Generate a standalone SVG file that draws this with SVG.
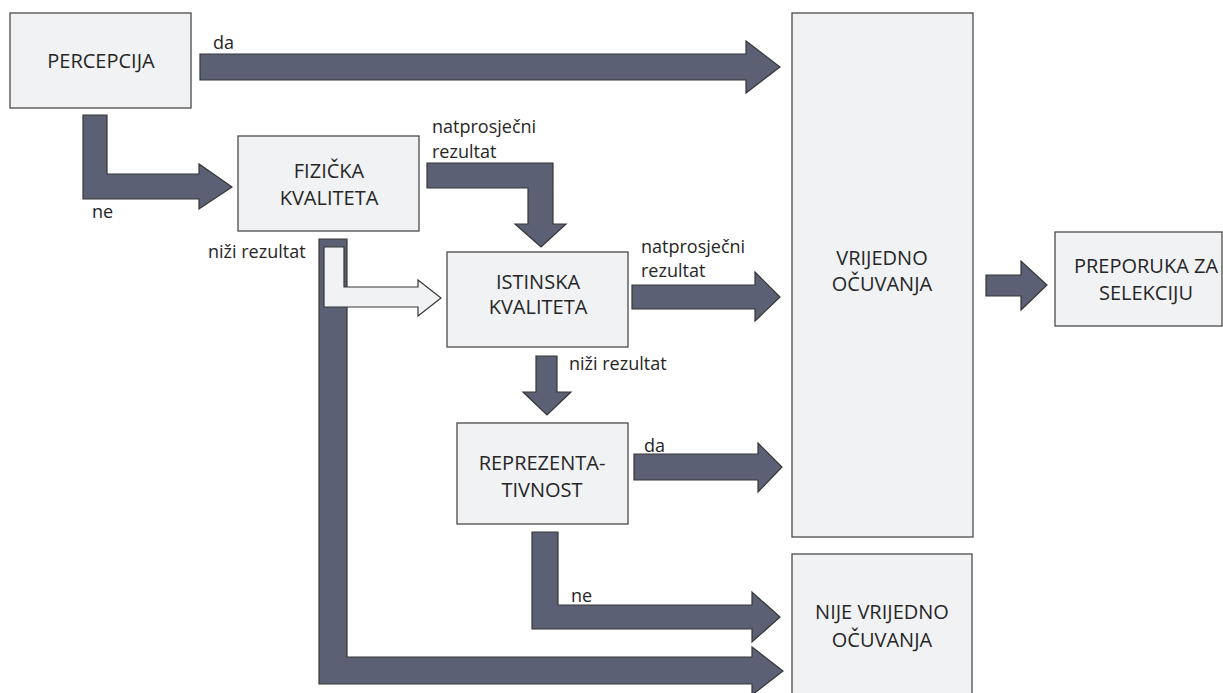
<svg xmlns="http://www.w3.org/2000/svg" width="1223" height="693" viewBox="0 0 1223 693">
<style>
.box{fill:#f1f2f4;stroke:#4a4a4a;stroke-width:1.3}
.arr{fill:#5c6074;stroke:#363636;stroke-width:1.2;stroke-linejoin:miter}
.arrl{fill:#f1f2f4;stroke:#363636;stroke-width:1.2}
.t{font-family:"Open Sans","Liberation Sans",sans-serif;font-size:20px;fill:#262626;text-anchor:middle}
.l{font-family:"Open Sans","Liberation Sans",sans-serif;font-size:18px;fill:#262626}
</style>
<rect width="1223" height="693" fill="#ffffff"/>
<g id="connectors">
<polygon class="arr" points="200,54 746,54 746,41 780,67 746,93 746,80 200,80"/>
<polygon class="arr" points="83,115 107,115 107,174 199,174 199,164 232,187 199,209 199,199 83,199"/>
<polygon class="arr" points="427,163 553,163 553,224 566,224 541,247 515,224 528,224 528,188 427,188"/>
<polygon class="arr" points="319,239 347,239 347,657 752,657 752,647 783,671 752,695 752,684 319,684"/>
<polygon class="arrl" points="324,247 344,247 344,287 418,287 418,280 441,298 418,316 418,307 324,307"/>
<polygon class="arr" points="632,285 755,285 755,272 780,297 755,321 755,309 632,309"/>
<polygon class="arr" points="536,356 557,356 557,392 571,392 547,415 523,392 536,392"/>
<polygon class="arr" points="634,454 758,454 758,443 782,467 758,492 758,480 634,480"/>
<polygon class="arr" points="532,532 558,532 558,605 752,605 752,592 780,617 752,642 752,629 532,629"/>
<polygon class="arr" points="986,275 1021,275 1021,261 1047,285 1021,310 1021,296 986,296"/>
<text class="l" x="213" y="49">da</text>
<text class="l" x="92" y="218">ne</text>
<text class="l" x="432" y="133">natprosječni</text>
<text class="l" x="432" y="158">rezultat</text>
<text class="l" x="208" y="258">niži rezultat</text>
<text class="l" x="641" y="253">natprosječni</text>
<text class="l" x="641" y="277">rezultat</text>
<text class="l" x="569" y="370">niži rezultat</text>
<text class="l" x="644" y="452">da</text>
<text class="l" x="571" y="602">ne</text>
</g>
<g id="percepcija">
<rect class="box" x="10" y="13" width="181" height="95"/>
<text class="t" x="101" y="68">PERCEPCIJA</text>
</g>
<g id="fizicka">
<rect class="box" x="238" y="136" width="181" height="95"/>
<text class="t" x="329" y="178">FIZIČKA</text>
<text class="t" x="329" y="205">KVALITETA</text>
</g>
<g id="istinska">
<rect class="box" x="447" y="252" width="181" height="95"/>
<text class="t" x="538" y="289">ISTINSKA</text>
<text class="t" x="538" y="314">KVALITETA</text>
</g>
<g id="reprezentativnost">
<rect class="box" x="457" y="423" width="171" height="101"/>
<text class="t" x="542" y="470">REPREZENTA-</text>
<text class="t" x="542" y="497">TIVNOST</text>
</g>
<g id="vrijedno">
<rect class="box" x="792" y="13" width="181" height="524"/>
<text class="t" x="882" y="265">VRIJEDNO</text>
<text class="t" x="882" y="291">OČUVANJA</text>
</g>
<g id="nije-vrijedno">
<rect class="box" x="792" y="554" width="180" height="150"/>
<text class="t" x="882" y="619">NIJE VRIJEDNO</text>
<text class="t" x="882" y="647">OČUVANJA</text>
</g>
<g id="preporuka">
<rect class="box" x="1055" y="232" width="167" height="94"/>
<text class="t" x="1146" y="273">PREPORUKA ZA</text>
<text class="t" x="1146" y="300">SELEKCIJU</text>
</g>
</svg>
